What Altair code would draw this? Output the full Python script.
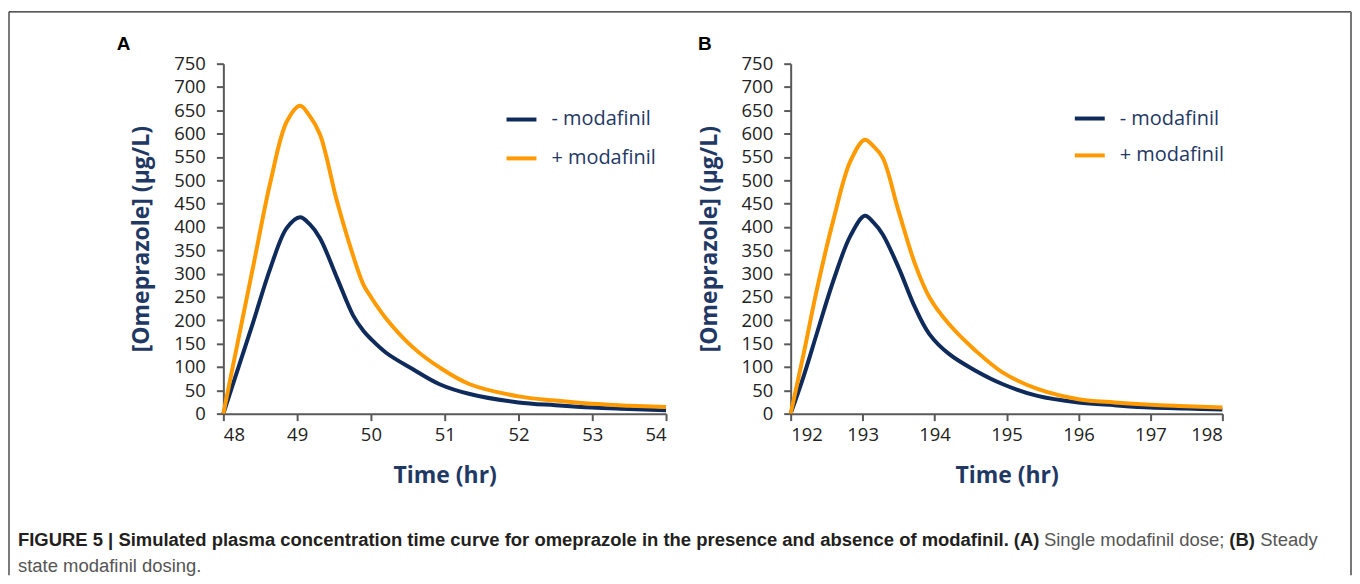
import altair as alt
import pandas as pd

# ---------------- data ----------------
series_labels = ["- modafinil", "+ modafinil"]

time_a = [48, 48.19, 48.41, 48.64, 48.86, 49.04, 49.17, 49.31, 49.54, 49.76, 49.9, 50.0,
          50.21, 50.57, 50.93, 51.34, 52, 52.5, 53, 53.5, 54]
minus_a = [0, 92, 199, 313, 398, 421, 406, 376, 291, 210, 177, 160,
           130, 95, 63, 42, 24, 18, 13, 10, 7]
plus_a = [0, 149, 320, 498, 626, 660, 638, 598, 455, 338, 276, 250,
          203, 142, 99, 63, 37, 28, 21, 17, 14]

time_b = [192, 192.18, 192.37, 192.6, 192.83, 193.03, 193.15, 193.28, 193.5, 193.73, 193.93,
          194.2, 194.57, 194.95, 195.43, 196, 196.5, 197, 197.5, 198]
minus_b = [0, 80, 175, 288, 381, 424, 410, 384, 313, 227, 170,
           128, 92, 63, 38, 24, 18, 13, 11, 9]
plus_b = [0, 128, 270, 419, 541, 587, 573, 548, 434, 320, 249,
          192, 135, 88, 53, 31, 24, 19, 16, 13]

y_ticks = list(range(0, 751, 50))
x_ticks_a = [48, 49, 50, 51, 52, 53, 54]
x_ticks_b = [192, 193, 194, 195, 196, 197, 198]

caption_bold = ("FIGURE 5 | Simulated plasma concentration time curve for omeprazole "
                "in the presence and absence of modafinil. (A)")
caption_a = "Single modafinil dose;"
caption_b_bold = "(B)"
caption_b = "Steady"
caption_line2 = "state modafinil dosing."

# ---------------- style ----------------
NAVY_LINE = "#0F2B5B"
ORANGE = "#FF9A00"
NAVY_TEXT = "#1F3864"
FONT = "Open Sans"
CAP_FONT = "Liberation Sans"
CAP_SIZE = 18.5

PW_A, PW_B, PH = 444, 433, 351
one = alt.Data(values=[{"k": 0}])


def text_layer(txt, x, y, size, weight="normal", color="#222", font=CAP_FONT, align="left"):
    return alt.Chart(one).mark_text(
        text=txt, fontSize=size, fontWeight=weight, color=color, font=font,
        align=align, baseline="middle"
    ).encode(x=alt.value(x), y=alt.value(y))


def rule_layer(x, x2, y, y2, color="#222", width=1.2):
    return alt.Chart(one).mark_rule(color=color, strokeWidth=width).encode(
        x=alt.value(x), x2=alt.value(x2), y=alt.value(y), y2=alt.value(y2)
    )


def panel(times, minus, plus, ticks, width, legend_x, legend_y, row_pad):
    n = len(times)
    df = pd.DataFrame({
        "t": list(times) + list(times),
        "v": list(minus) + list(plus),
        "s": [series_labels[0]] * n + [series_labels[1]] * n,
    })
    return alt.Chart(df).mark_line(strokeWidth=4, interpolate="catmull-rom").encode(
        x=alt.X("t:Q",
                scale=alt.Scale(domain=[ticks[0], ticks[-1]], nice=False, zero=False),
                axis=alt.Axis(values=ticks, format="d", title="Time (hr)")),
        y=alt.Y("v:Q",
                scale=alt.Scale(domain=[0, 750], nice=False),
                axis=alt.Axis(values=y_ticks, format="d", title="[Omeprazole] (µg/L)")),
        color=alt.Color("s:N",
                        scale=alt.Scale(domain=series_labels, range=[NAVY_LINE, ORANGE]),
                        legend=alt.Legend(title=None, orient="none", legendX=legend_x,
                                          legendY=legend_y, symbolType="stroke",
                                          symbolSize=900, symbolStrokeWidth=4,
                                          labelFontSize=20, labelFont=FONT,
                                          labelColor=NAVY_TEXT, labelOffset=13,
                                          rowPadding=row_pad)),
        detail="s:N",
    ).properties(width=width, height=PH)


# panel A origin is at page (223, 62)
CAP_Y1 = 478
CAP_Y2 = 504
lines_a = panel(time_a, minus_a, plus_a, x_ticks_a, PW_A, 282, 39, 12)
deco_a = [
    # frame
    rule_layer(-215, 1131, -52, -52),
    rule_layer(-215, -215, -52, 513),
    rule_layer(1131, 1131, -52, 513, color="#777", width=2),
    # panel letter
    text_layer("A", -107, -20, 19, "bold", "#000"),
    # caption
    text_layer(caption_bold, -206, CAP_Y1, CAP_SIZE, "bold", "#231f20"),
    text_layer(caption_a, 823, CAP_Y1, CAP_SIZE, "normal", "#555"),
    text_layer(caption_b_bold, 1009, CAP_Y1, CAP_SIZE, "bold", "#231f20"),
    text_layer(caption_b, 1040, CAP_Y1, CAP_SIZE, "normal", "#555"),
    text_layer(caption_line2, -206, CAP_Y2, CAP_SIZE, "normal", "#555"),
]
chart_a = alt.layer(lines_a, *deco_a)

lines_b = panel(time_b, minus_b, plus_b, x_ticks_b, PW_B, 283, 38, 10)
chart_b = alt.layer(lines_b, text_layer("B", -93, -20, 19, "bold", "#000"))

chart = alt.hconcat(chart_a, chart_b, spacing=125, bounds="flush").resolve_scale(
    color="independent"
).resolve_legend(color="independent").properties(
    padding={"left": 0, "top": 2, "right": 0, "bottom": 0}
).configure_view(stroke=None).configure_axis(
    grid=False,
    domainColor="#595959", domainWidth=2,
    tickColor="#595959", tickWidth=2, tickSize=7,
    labelFont=FONT, labelFontSize=18.5, labelColor="#222",
    titleFont=FONT, titleFontSize=23, titleFontWeight="bold", titleColor=NAVY_TEXT,
).configure_axisY(labelPadding=11, titlePadding=20).configure_axisX(
    labelPadding=5, titlePadding=21
)

chart.save("out.html", embed_options={"renderer": "svg", "actions": False})
